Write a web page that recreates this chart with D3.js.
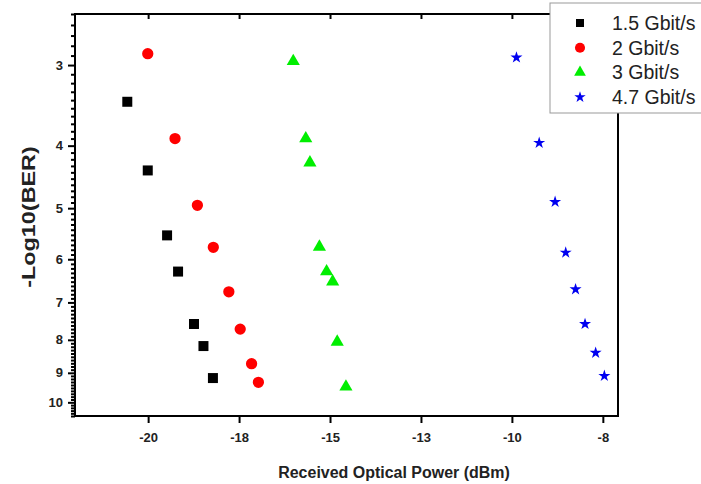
<!DOCTYPE html>
<html>
<head>
<meta charset="utf-8">
<script src="https://cdn.jsdelivr.net/npm/d3@7"></script>
<style>
  body { margin: 0; background: #fff; }
  svg { font-family: Arial, "Liberation Sans", sans-serif; }
</style>
</head>
<body>
<div id="chart"></div>
<script>
// series: received optical power (dBm) vs -log10(BER)
const series = ["1.5 Gbit/s", "2 Gbit/s", "3 Gbit/s", "4.7 Gbit/s"];
const colors = ["#000000", "#ff0000", "#00ee00", "#0000f0"];

const power15 = [-20.55, -20.01, -19.50, -19.21, -18.79, -18.54, -18.29];
const ber15 = [3.42, 4.37, 5.51, 6.27, 7.56, 8.18, 9.17];

const power2 = [-20.01, -19.29, -18.70, -18.28, -17.87, -17.57, -17.27, -17.09];
const ber2 = [2.88, 3.90, 4.95, 5.75, 6.74, 7.70, 8.71, 9.31];

const power3 = [-16.17, -15.84, -15.73, -15.48, -15.29, -15.13, -15.01, -14.78];
const ber3 = [2.96, 3.90, 4.25, 5.74, 6.27, 6.50, 8.06, 9.46];

const power47 = [-10.28, -9.68, -9.26, -8.98, -8.72, -8.47, -8.19, -7.96];
const ber47 = [2.92, 3.96, 4.89, 5.86, 6.68, 7.56, 8.38, 9.10];

// x ticks are evenly spaced, labels rounded to whole dBm
const xTicks = [-20, -17.6, -15.2, -12.8, -10.4, -8];
const yTicks = [3, 4, 5, 6, 7, 8, 9, 10];

const width = 701, height = 484;
const margin = { top: 14, right: 83, bottom: 68, left: 75 };
const w = width - margin.left - margin.right;
const h = height - margin.top - margin.bottom;

const svg = d3.select("#chart")
  .append("svg")
  .attr("width", width)
  .attr("height", height);

const g = svg.append("g")
  .attr("transform", `translate(${margin.left},${margin.top})`);

// scales
const x = d3.scaleLinear().domain([-21.93, -7.6]).range([0, w]);
const y = d3.scaleLog().domain([2.5, 10.5]).range([0, h]);

// minor ticks on y every 0.1
const minor = d3.range(25, 106).map(d => d / 10).filter(d => d % 1 !== 0);
g.append("g")
  .call(d3.axisLeft(y).tickValues(minor).tickSize(4).tickFormat("").tickSizeOuter(0))
  .call(a => a.select(".domain").remove())
  .selectAll("line").attr("stroke-width", 2);

// y axis
const yAxis = g.append("g")
  .call(d3.axisLeft(y).tickValues(yTicks).tickSize(7).tickPadding(5)
    .tickFormat(d3.format("d")).tickSizeOuter(0));
yAxis.select(".domain").remove();
yAxis.selectAll("line").attr("stroke-width", 2);
yAxis.selectAll("text")
  .style("font-size", "13px").style("font-weight", "bold").attr("fill", "#222");

// x axis
const xAxis = g.append("g")
  .attr("transform", `translate(0,${h})`)
  .call(d3.axisBottom(x).tickValues(xTicks).tickSize(7).tickPadding(10)
    .tickFormat(d => Math.round(d)).tickSizeOuter(0));
xAxis.select(".domain").remove();
xAxis.selectAll("line").attr("stroke-width", 2);
xAxis.selectAll("text")
  .style("font-size", "13px").style("font-weight", "bold").attr("fill", "#222");

// top ticks pointing inward
const topAxis = g.append("g")
  .call(d3.axisTop(x).tickValues(xTicks).tickSize(-5).tickFormat("").tickSizeOuter(0));
topAxis.select(".domain").remove();
topAxis.selectAll("line").attr("stroke-width", 2);

// frame
g.append("rect")
  .attr("width", w)
  .attr("height", h)
  .attr("fill", "none")
  .attr("stroke", "#000")
  .attr("stroke-width", 2);

// markers
const data = [
  { name: series[0], xs: power15, ys: ber15, symbol: d3.symbolSquare, size: 100 },
  { name: series[1], xs: power2, ys: ber2, symbol: d3.symbolCircle, size: 100 },
  { name: series[2], xs: power3, ys: ber3, symbol: d3.symbolTriangle, size: 75 },
  { name: series[3], xs: power47, ys: ber47, symbol: d3.symbolStar, size: 45 }
];

data.forEach((s, i) => {
  g.append("g")
    .selectAll("path")
    .data(s.xs.map((v, j) => [v, s.ys[j]]))
    .join("path")
    .attr("d", d3.symbol().type(s.symbol).size(s.size))
    .attr("transform", d => `translate(${x(d[0])},${y(d[1])})`)
    .attr("fill", colors[i]);
});

// axis titles (source image is slightly stretched, so scale the glyphs)
svg.append("text")
  .attr("transform", "translate(394,478) scale(0.94,1)")
  .attr("text-anchor", "middle")
  .style("font-size", "17px")
  .style("font-weight", "bold")
  .attr("fill", "#222")
  .text("Received Optical Power (dBm)");

svg.append("text")
  .attr("transform", "translate(35,217) rotate(-90) scale(1.3,1)")
  .attr("text-anchor", "middle")
  .style("font-size", "18px")
  .style("font-weight", "bold")
  .attr("fill", "#222")
  .text("-Log10(BER)");

// legend
const legend = svg.append("g").attr("transform", "translate(550,3)");
legend.append("rect")
  .attr("width", 160)
  .attr("height", 110)
  .attr("fill", "#fff")
  .attr("stroke", "#999")
  .attr("stroke-width", 1);

const legendSizes = [64, 80, 60, 40];
data.forEach((s, i) => {
  const row = legend.append("g").attr("transform", `translate(0,${20 + i * 24.7})`);
  row.append("path")
    .attr("d", d3.symbol().type(s.symbol).size(legendSizes[i]))
    .attr("transform", "translate(30,0)")
    .attr("fill", colors[i]);
  row.append("text")
    .attr("x", 62)
    .attr("dy", "0.35em")
    .style("font-size", "19.5px")
    .attr("fill", "#222")
    .text(s.name);
});
</script>
</body>
</html>
